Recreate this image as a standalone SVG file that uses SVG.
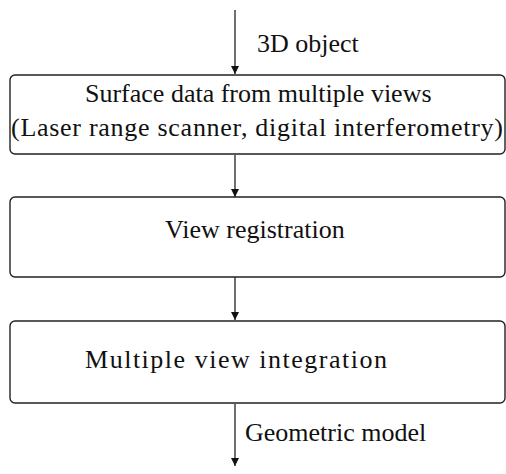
<svg xmlns="http://www.w3.org/2000/svg" width="506" height="474" viewBox="0 0 506 474">
<style>
.box{fill:#fff;stroke:#222;stroke-width:1.4}
.t{font-family:Liberation Serif,Times New Roman,serif;font-size:26px;fill:#111}
.c{stroke:#222;stroke-width:1.3;fill:none}
</style>
<defs>
<marker id="ah" markerWidth="10" markerHeight="10" refX="8" refY="4" orient="auto" markerUnits="userSpaceOnUse">
<path d="M0,0 L8,4 L0,8 Z" fill="#111"/>
</marker>
</defs>
<rect width="506" height="474" fill="#fff"/>
<g id="connectors">
<line class="c" x1="235" y1="10" x2="235" y2="74" marker-end="url(#ah)"/>
<line class="c" x1="235" y1="155" x2="235" y2="197" marker-end="url(#ah)"/>
<line class="c" x1="235" y1="277" x2="235" y2="320" marker-end="url(#ah)"/>
<line class="c" x1="235" y1="404" x2="235" y2="466" marker-end="url(#ah)"/>
<text class="t" x="257" y="52">3D object</text>
<text class="t" x="245" y="441">Geometric model</text>
</g>
<g id="surface">
<rect class="box" x="10" y="75" width="495" height="79" rx="5"/>
<text class="t" x="85" y="102">Surface data from multiple views</text>
<text class="t" x="11" y="136" textLength="492" lengthAdjust="spacing">(Laser range scanner, digital interferometry)</text>
</g>
<g id="registration">
<rect class="box" x="10" y="197" width="495" height="80" rx="5"/>
<text class="t" x="165" y="238">View registration</text>
</g>
<g id="integration">
<rect class="box" x="10" y="321" width="495" height="82" rx="5"/>
<text class="t" x="85" y="368" textLength="302" lengthAdjust="spacing">Multiple view integration</text>
</g>
</svg>
